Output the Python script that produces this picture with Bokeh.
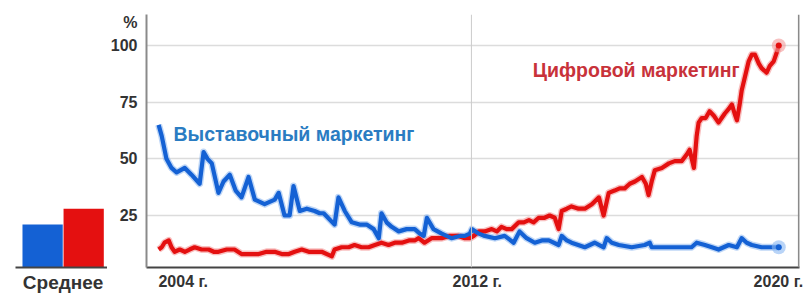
from bokeh.plotting import figure
from bokeh.layouts import row
from bokeh.models import Range1d, FixedTicker, Label, Span
from bokeh.embed import file_html
from bokeh.resources import INLINE

# ---- data ----
blue_name = "Выставочный маркетинг"
red_name = "Цифровой маркетинг"

blue_x = [2004.00, 2004.08, 2004.20, 2004.33, 2004.46, 2004.67, 2004.84, 2005.05, 2005.15, 2005.25,
          2005.36, 2005.53, 2005.66, 2005.82, 2005.97, 2006.12, 2006.30, 2006.46, 2006.71, 2006.84,
          2006.97, 2007.07, 2007.22, 2007.35, 2007.45, 2007.61, 2007.79, 2007.99, 2008.12, 2008.22,
          2008.50, 2008.60, 2008.76, 2008.94, 2009.14, 2009.32, 2009.50, 2009.63, 2009.70, 2009.83,
          2009.96, 2010.14, 2010.34, 2010.55, 2010.68, 2010.78, 2010.86, 2011.03, 2011.24, 2011.49,
          2011.70, 2011.83, 2011.96, 2012.01, 2012.19, 2012.34, 2012.60, 2012.85, 2013.08, 2013.23,
          2013.41, 2013.62, 2013.80, 2013.98, 2014.23, 2014.31, 2014.44, 2014.56, 2014.90, 2015.15,
          2015.38, 2015.46, 2015.59, 2015.77, 2016.10, 2016.43, 2016.56, 2016.61, 2016.87, 2017.05,
          2017.38, 2017.63, 2017.76, 2017.97, 2018.15, 2018.32, 2018.58, 2018.79, 2018.91, 2019.04,
          2019.17, 2019.42, 2019.63, 2019.86]
blue_y = [65, 60, 50, 46, 44, 46, 43, 39, 53, 50,
          48, 35, 40, 43, 36, 33, 42, 32, 30, 31,
          32, 35, 25, 25, 38, 27, 28, 27, 26, 26,
          21, 33, 27, 22, 21, 21, 19, 15, 26, 22,
          20, 18, 19, 19, 17, 16, 24, 19, 17, 15,
          16, 16, 17, 19, 17, 16, 15, 16, 13, 18,
          15, 13, 14, 14, 12, 16, 14, 13, 11, 13,
          11, 15, 13, 12, 11, 12, 13, 11, 11, 11,
          11, 11, 13, 12, 11, 10, 12, 11, 15, 13,
          12, 11, 11, 11]

red_x = [2004.00, 2004.08, 2004.15, 2004.26, 2004.33, 2004.41, 2004.54, 2004.67, 2004.79, 2004.92,
         2005.10, 2005.28, 2005.41, 2005.53, 2005.74, 2005.94, 2006.12, 2006.33, 2006.56, 2006.76,
         2006.97, 2007.15, 2007.33, 2007.48, 2007.66, 2007.84, 2007.99, 2008.17, 2008.43, 2008.50,
         2008.68, 2008.86, 2009.01, 2009.19, 2009.37, 2009.53, 2009.70, 2009.88, 2010.04, 2010.22,
         2010.40, 2010.55, 2010.65, 2010.80, 2010.98, 2011.24, 2011.44, 2011.67, 2011.83, 2011.96,
         2012.06, 2012.19, 2012.34, 2012.52, 2012.65, 2012.77, 2012.90, 2013.03, 2013.21, 2013.34,
         2013.47, 2013.59, 2013.72, 2013.87, 2014.00, 2014.13, 2014.23, 2014.31, 2014.44, 2014.56,
         2014.74, 2014.90, 2015.08, 2015.26, 2015.38, 2015.51, 2015.66, 2015.79, 2015.92, 2016.05,
         2016.18, 2016.36, 2016.46, 2016.53, 2016.61, 2016.69, 2016.87, 2017.05, 2017.20, 2017.38,
         2017.51, 2017.58, 2017.69, 2017.76, 2017.81, 2017.89, 2017.99, 2018.09, 2018.20, 2018.32,
         2018.40, 2018.48, 2018.58, 2018.66, 2018.73, 2018.79, 2018.86, 2018.91, 2019.02, 2019.09,
         2019.17, 2019.25, 2019.35, 2019.42, 2019.55, 2019.63, 2019.73, 2019.81, 2019.86]
red_y = [10, 11, 13, 14, 11, 9, 10, 9, 10, 11,
         10, 10, 9, 9, 10, 10, 8, 8, 8, 9,
         9, 8, 8, 9, 10, 9, 9, 9, 7, 10,
         11, 11, 12, 11, 11, 12, 13, 12, 13, 13,
         14, 14, 15, 13, 15, 15, 16, 16, 15, 15,
         16, 18, 18, 19, 18, 20, 19, 19, 22, 22,
         23, 22, 24, 24, 25, 24, 19, 27, 28, 29,
         28, 28, 30, 33, 25, 35, 36, 37, 37, 39,
         40, 42, 39, 34, 40, 45, 46, 48, 49, 49,
         52, 54, 46, 60, 66, 68, 68, 71, 69, 66,
         68, 70, 72, 74, 70, 67, 74, 80, 88, 93,
         96, 96, 92, 90, 88, 91, 93, 97, 100]

avg_values = [21, 28]
avg_label = "Среднее"

y_ticks = [25, 50, 75, 100]
y_unit_label = "%"
x_tick_pos = [2004.63, 2012.15, 2019.85]
x_tick_labels = ["2004 г.", "2012 г.", "2020 г."]

BLUE = "#1461d4"
RED = "#e41010"
FONT = "Liberation Sans"

y_range = Range1d(2.07, 113.67)
FH = 253
TOP = 14
BOTTOM = 27

# ---- main chart ----
p = figure(frame_width=653, frame_height=FH, x_range=Range1d(2003.69, 2020.39), y_range=y_range,
           output_backend="svg", toolbar_location=None,
           min_border_left=38, min_border_right=5, min_border_top=TOP, min_border_bottom=BOTTOM)
p.outline_line_color = None
p.background_fill_color = "white"

p.xgrid.visible = False
p.ygrid.ticker = FixedTicker(ticks=y_ticks)
p.ygrid.grid_line_color = "#dcdcdc"
p.ygrid.grid_line_width = 1.5

p.yaxis.ticker = FixedTicker(ticks=y_ticks + [110])
p.yaxis.major_label_overrides = {110: y_unit_label}
p.yaxis.major_tick_line_color = None
p.yaxis.major_tick_out = 0
p.yaxis.major_tick_in = 0
p.yaxis.minor_tick_line_color = None
p.yaxis.axis_line_color = "#8a8a8a"
p.yaxis.axis_line_width = 2
p.yaxis.major_label_text_font = FONT
p.yaxis.major_label_text_font_style = "bold"
p.yaxis.major_label_text_font_size = "16px"
p.yaxis.major_label_text_color = "#333333"
p.yaxis.major_label_standoff = 9

p.xaxis.ticker = FixedTicker(ticks=x_tick_pos)
p.xaxis.major_label_overrides = {x_tick_pos[i]: x_tick_labels[i] for i in range(3)}
p.xaxis.major_tick_line_color = None
p.xaxis.major_tick_out = 0
p.xaxis.major_tick_in = 0
p.xaxis.minor_tick_line_color = None
p.xaxis.axis_line_color = "#444444"
p.xaxis.axis_line_width = 2
p.xaxis.major_label_text_font = FONT
p.xaxis.major_label_text_font_style = "bold"
p.xaxis.major_label_text_font_size = "16px"
p.xaxis.major_label_text_color = "#333333"
p.xaxis.major_label_standoff = 5

p.add_layout(Span(location=2012, dimension="height", line_color="#cccccc", line_width=1))
p.add_layout(Span(location=2020.375, dimension="height", line_color="#8a8a8a", line_width=2))

# halos
p.line(blue_x, blue_y, line_color="#6fa3ea", line_width=7, line_alpha=0.45, line_join="round")
p.line(red_x, red_y, line_color="#f07070", line_width=7, line_alpha=0.45, line_join="round")
p.line(red_x, red_y, line_color=RED, line_width=4.2, line_join="round")
p.line(blue_x, blue_y, line_color=BLUE, line_width=4.2, line_join="round")

p.scatter([blue_x[-1]], [blue_y[-1]], size=14, fill_color="#8ab8f2", fill_alpha=0.6, line_color=None)
p.scatter([blue_x[-1]], [blue_y[-1]], size=6, fill_color=BLUE, line_color=None)
p.scatter([red_x[-1]], [red_y[-1]], size=14, fill_color="#f29a9a", fill_alpha=0.6, line_color=None)
p.scatter([red_x[-1]], [red_y[-1]], size=6, fill_color=RED, line_color=None)

p.add_layout(Label(x=2004.38, y=61, text=blue_name, text_align="left", text_baseline="middle",
                   text_font=FONT, text_font_style="bold", text_font_size="19.5px",
                   text_color="#2a7cc2"))
p.add_layout(Label(x=2018.86, y=89, text=red_name, text_align="right", text_baseline="middle",
                   text_font=FONT, text_font_style="bold", text_font_size="19.5px",
                   text_color="#c8323a"))

# ---- average bars ----
pb = figure(frame_width=92, frame_height=FH, x_range=Range1d(0.34, 2.58), y_range=y_range,
            output_backend="svg", toolbar_location=None, y_axis_location=None,
            min_border_left=15, min_border_right=0, min_border_top=TOP, min_border_bottom=BOTTOM)
pb.outline_line_color = None
pb.grid.visible = False
pb.vbar(x=[1, 2], top=avg_values, bottom=0, width=0.98, fill_color=[BLUE, RED], line_color=None)
pb.xaxis.ticker = FixedTicker(ticks=[1.5])
pb.xaxis.major_label_overrides = {1.5: avg_label}
pb.xaxis.major_tick_line_color = None
pb.xaxis.major_tick_out = 0
pb.xaxis.major_tick_in = 0
pb.xaxis.minor_tick_line_color = None
pb.xaxis.axis_line_color = "#444444"
pb.xaxis.axis_line_width = 2
pb.xaxis.major_label_text_font = FONT
pb.xaxis.major_label_text_font_style = "bold"
pb.xaxis.major_label_text_font_size = "19px"
pb.xaxis.major_label_text_color = "#333333"
pb.xaxis.major_label_standoff = 4

layout = row(pb, p)
open("out.html", "w").write(file_html(layout, INLINE))
